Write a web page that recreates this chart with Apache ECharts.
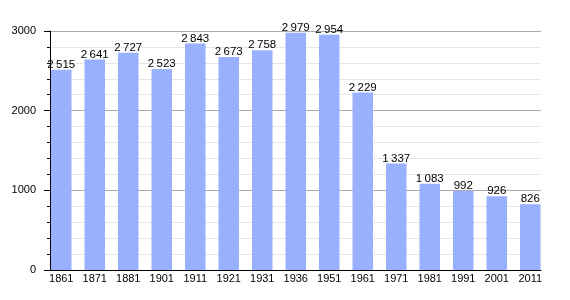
<!DOCTYPE html>
<html><head><meta charset="utf-8">
<script src="https://cdn.jsdelivr.net/npm/echarts@6/dist/echarts.min.js"></script>
<style>html,body{margin:0;padding:0;background:#fff}#c{width:570px;height:300px}</style>
</head><body><div id="c"></div>
<script>
const years = ['1861','1871','1881','1901','1911','1921','1931','1936','1951','1961','1971','1981','1991','2001','2011'];
const population = [2515,2641,2727,2523,2843,2673,2758,2979,2954,2229,1337,1083,992,926,826];
const yTicks = [0,1000,2000,3000];

function fmt(v){const s=String(v);return s.length>3?s.slice(0,-3)+'\u2009'+s.slice(-3):s;}
const FONT="'Liberation Sans',sans-serif";
const yMax = yTicks[yTicks.length-1];
const chart = echarts.init(document.getElementById('c'));
chart.setOption({
  animation:false,
  grid:[
    {left:50,right:29,top:31,bottom:30},
    {left:44.5,right:23,top:31,bottom:30}
  ],
  xAxis:[
    {gridIndex:0,type:'category',data:years,
      axisLine:{lineStyle:{color:'#000',width:1}},
      axisTick:{show:false},axisLabel:{show:false}},
    {gridIndex:1,type:'category',data:years,
      axisLine:{show:false},axisTick:{show:false},
      axisLabel:{color:'#000',fontFamily:FONT,fontSize:11,margin:3,interval:0}}
  ],
  yAxis:[
    {gridIndex:0,type:'value',min:0,max:yMax,interval:1000,
      axisLine:{show:true,lineStyle:{color:'#000'}},
      axisTick:{show:true,length:6,lineStyle:{color:'#000'}},
      minorTick:{show:true,splitNumber:5,length:3,lineStyle:{color:'#000'}},
      splitLine:{show:true,lineStyle:{color:'#aaa',width:1}},
      minorSplitLine:{show:true,lineStyle:{color:'#e6e6e6',width:1}},
      axisLabel:{color:'#000',fontFamily:FONT,fontSize:11,margin:14,formatter:v=>String(v)}},
    {gridIndex:1,type:'value',min:0,max:yMax,interval:1000,show:false}
  ],
  series:[{type:'bar',xAxisIndex:1,yAxisIndex:1,data:population,barWidth:'61.3%',
    itemStyle:{color:'#99b0ff'},
    label:{show:true,position:'top',distance:-1,color:'#000',fontFamily:FONT,fontSize:11.5,
      formatter:p=>fmt(p.value)}}]
});
</script></body></html>
